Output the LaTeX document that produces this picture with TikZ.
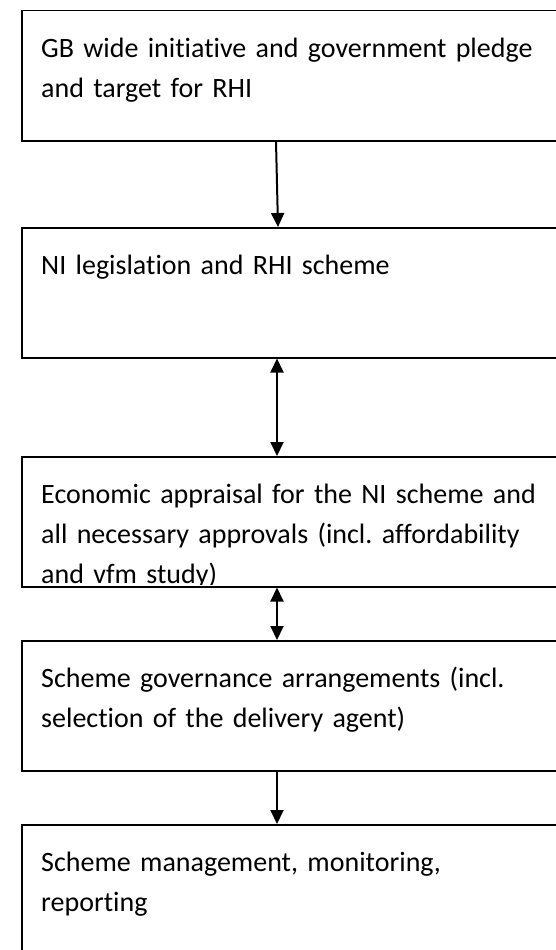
\documentclass[tikz,border=0pt]{standalone}
\usepackage{fontspec}
\setmainfont{Carlito}[Ligatures=NoCommon]
\frenchspacing
\usetikzlibrary{arrows.meta}
\begin{document}
\begin{tikzpicture}[x=1pt,y=-1pt,
  stagebox/.style={draw=black, line width=1.5pt, rectangle, inner sep=0pt,
    anchor=north west, minimum width=560pt, minimum height=130pt},
  stagetext/.style={anchor=north west, inner sep=0pt, text width=520pt,
    align=left, font=\fontsize{28}{40}\selectfont},
  tip/.tip={Triangle[width=13pt,length=14pt]},
  link/.style={line width=2pt, -tip},
  duallink/.style={line width=2pt, tip-tip}]
% page area
\useasboundingbox (0,0) rectangle (556,950);
\clip (0,0) rectangle (556,950);
\fill[white] (0,0) rectangle (556,950);

% stage boxes (they run past the right edge of the page)
\node[stagebox] (b1) at (21,10) {};
\node[stagebox] (b2) at (21,227) {};
\node[stagebox] (b3) at (21,456) {};
\node[stagebox] (b4) at (21,640) {};
\node[stagebox, minimum height=160pt] (b5) at (21,824) {};

% stage texts
\node[stagetext] (t1) at (41,29) {\strut GB wide initiative and government pledge\\and target for RHI};
\node[stagetext] (t2) at (41,246) {\strut NI legislation and RHI scheme};
\begin{scope}
  % the third line is cut off by the box's inner margin
  \clip ([yshift=-3pt]b3.north west) rectangle ([yshift=3.5pt]b3.south east);
  \node[stagetext] (t3) at (41,475) {\strut Economic appraisal for the NI scheme and\\all necessary approvals (incl. affordability\\and vfm study)};
\end{scope}
\node[stagetext] (t4) at (41,659) {\strut Scheme governance arrangements (incl.\\selection of the delivery agent)};
\node[stagetext] (t5) at (41,843) {\strut Scheme management, monitoring,\\reporting};

% connectors
\draw[link] ([xshift=255pt]b1.south west) -- ([xshift=257pt]b2.north west);
\draw[duallink] ([xshift=256pt]b2.south west) -- ([xshift=256pt]b3.north west);
\draw[duallink] ([xshift=256pt]b3.south west) -- ([xshift=256pt]b4.north west);
\draw[link] ([xshift=256pt]b4.south west) -- ([xshift=256pt]b5.north west);
\end{tikzpicture}
\end{document}
